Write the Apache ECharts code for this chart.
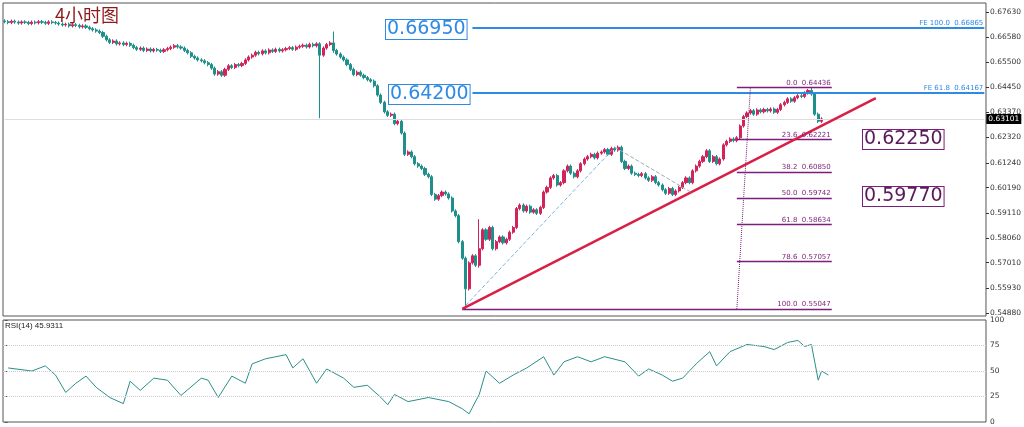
<!DOCTYPE html>
<html><head><meta charset="utf-8">
<script src="https://cdn.jsdelivr.net/npm/echarts@6/dist/echarts.min.js"></script>
<style>html,body{margin:0;padding:0;background:#fff}#c{width:1024px;height:427px}</style>
</head><body><div id="c"></div>
<script>
const closes = [
0.6722,0.6718,0.6724,0.6720,0.6716,0.6721,0.6719,0.6714,0.6720,0.6717,0.6722,0.6719,0.6715,0.6721,0.6718,0.6716,
0.6712,0.6708,0.6711,0.6704,0.6709,0.6706,0.6700,0.6704,0.6698,0.6692,0.6687,0.6682,0.6676,
0.6660,0.6645,0.6634,0.6640,0.6628,0.6632,0.6625,0.6630,0.6622,
0.6612,0.6605,0.6610,0.6600,0.6606,0.6598,0.6604,0.6601,0.6596,0.6603,0.6608,0.6614,
0.6620,0.6615,0.6610,0.6600,0.6590,
0.6575,0.6568,0.6560,0.6556,0.6548,0.6540,0.6525,
0.6500,0.6510,0.6495,
0.6520,0.6535,0.6528,0.6540,0.6536,0.6545,
0.6560,0.6572,
0.6580,0.6592,0.6586,0.6598,0.6590,0.6602,0.6596,0.6605,0.6598,0.6603,0.6608,
0.6612,0.6605,0.6614,0.6618,
0.6622,0.6615,0.6626,0.6620,0.6628,
0.6580,
0.6610,0.6625,0.6632,
0.6600,0.6585,0.6572,0.6560,
0.6540,0.6520,0.6498,0.6508,0.6495,
0.6485,0.6476,0.6470,0.6450,
0.6411,0.6380,
0.6340,0.6325,0.6330,
0.6290,0.6300,0.6250,
0.6160,0.6170,0.6150,
0.6120,0.6110,0.6100,
0.6075,0.6065,
0.5990,0.5970,0.5985,
0.6000,0.5992,0.5975,
0.5920,0.5900,
0.5790,0.5720,
0.5590,
0.5700,0.5730,
0.5690,0.5760,
0.5840,0.5800,0.5850,
0.5760,0.5790,0.5810,0.5785,
0.5800,0.5830,0.5850,
0.5930,0.5945,0.5920,
0.5940,0.5915,0.5925,0.5910,0.5935,
0.6000,0.6020,0.6060,0.6070,
0.6030,0.6040,0.6090,
0.6110,0.6080,0.6065,0.6090,0.6120,
0.6140,0.6150,0.6160,0.6145,0.6165,
0.6170,0.6180,0.6160,0.6185,0.6178,
0.6190,0.6130,0.6100,0.6110,0.6080,0.6075,
0.6070,0.6078,0.6060,0.6050,0.6065,0.6040,0.6030,
0.6010,0.5995,0.6015,0.5990,0.6005,
0.6020,0.6040,0.6060,0.6040,
0.6090,0.6110,0.6130,0.6150,
0.6175,0.6130,0.6150,0.6120,0.6140,
0.6200,0.6215,0.6225,
0.6218,0.6230,0.6280,0.6320,
0.6335,0.6345,0.6330,0.6348,0.6340,0.6350,
0.6344,0.6352,0.6338,0.6350,
0.6370,0.6380,0.6395,0.6385,0.6400,0.6408,
0.6405,0.6420,0.6430,0.6415,
0.6330,0.6300,0.6310
];
const wickOverrides = {93:[0.6635,0.6313], 136:[0.5640,0.5505], 140:[0.5885,0.5680], 97:[0.6680,0.6590], 238:[0.6444,0.6410]};
const rsiIdx = [1,8,12,15,18,21,24,27,31,35,37,40,44,48,52,58,60,63,67,71,73,77,83,85,88,92,95,100,103,107,111,113,115,119,125,131,135,137,140,142,146,150,154,159,162,165,169,173,177,183,187,190,194,197,200,204,208,210,214,219,224,227,231,234,236,238,240,241,243];
const rsiVal = [53,50,55,46,29,38,45,34,24,18,40,31,43,41,26,43,41,24,45,38,57,62,66,53,62,38,52,43,34,36,24,17,27,20,24,20,13,8,27,50,38,46,53,64,46,59,64,59,64,59,45,52,46,40,43,57,69,55,69,76,74,71,78,80,74,76,41,50,46];
const fibLevels = [["0.0",0.64436],["23.6",0.62221],["38.2",0.60850],["50.0",0.59742],["61.8",0.58634],["78.6",0.57057],["100.0",0.55047]];
const priceTicks = [0.54880,0.55930,0.57010,0.58060,0.59110,0.60190,0.61240,0.62320,0.63370,0.64450,0.65500,0.66580,0.67630];
const rsiTicks = [0,25,50,75,100];
const N = 290;

const cats = Array.from({length:N},(_,i)=>i);
const ohlc = closes.map((c,i)=>{
  const o = i===0 ? c+0.0003 : closes[i-1];
  let h = Math.max(o,c)+0.0007, l = Math.min(o,c)-0.0007;
  if (wickOverrides[i]) { h = Math.max(h, wickOverrides[i][0]); l = Math.min(l, wickOverrides[i][1]); }
  return [o,c,l,h];
});
const rsiData = rsiIdx.map((x,k)=>[x, rsiVal[k]]);
const purple = '#7a1f7a';
const blue = '#2f8ae6';
const fibLines = fibLevels.map(([p,v])=>[
  {coord:[p==="100.0"?135:216, v], lineStyle:{color:purple,width:1.3,type:'solid'},
   label:{show:true, position:'insideEndTop', formatter:p+'  '+v.toFixed(5), color:purple, fontSize:7, distance:1}},
  {coord:[244, v]}
]);
const chart = echarts.init(document.getElementById('c'));
const box = (txt,x,y,col,tc)=>({type:'text',left:x,top:y,style:{text:txt,fontSize:19,fill:tc,borderColor:col,borderWidth:1,padding:[0,1],backgroundColor:'#fff',fontFamily:'DejaVu Sans'}});
chart.setOption({
  animation:false,
  textStyle:{fontFamily:'DejaVu Sans'},
  grid:[{left:3,right:38,top:3,height:313,show:true,borderColor:'#555',borderWidth:1},
        {left:3,right:38,top:320,height:102,show:true,borderColor:'#555',borderWidth:1}],
  xAxis:[{type:'category',data:cats,gridIndex:0,axisLine:{show:false},axisTick:{show:false},axisLabel:{show:false}},
         {type:'value',min:-0.5,max:N-0.5,gridIndex:1,axisLine:{show:false},axisTick:{show:false},axisLabel:{show:false},splitLine:{show:false}}],
  yAxis:[{type:'value',min:0.5475,max:0.6801,position:'right',gridIndex:0,scale:true,splitLine:{show:false},
          axisLine:{show:false},axisTick:{show:true,length:3,customValues:priceTicks,lineStyle:{color:'#333'}},
          axisLabel:{customValues:priceTicks,formatter:v=>v.toFixed(5),fontSize:7.5,color:'#333',margin:4}},
         {type:'value',min:0,max:100,position:'right',gridIndex:1,
          axisLine:{show:false},axisTick:{show:true,length:3,customValues:rsiTicks},
          axisLabel:{customValues:rsiTicks,fontSize:7.5,color:'#333',margin:4},
          splitLine:{show:false}}],
  graphic:[
    {type:'text',left:55,top:6,style:{text:'4小时图',fontSize:18,fill:'#8b1a1a',fontFamily:'Noto Sans CJK SC'}},
    {type:'text',left:5,top:322,style:{text:'RSI(14) 45.9311',fontSize:8,fill:'#222'}},
    box('0.66950',385,19,blue,blue),
    box('0.64200',388,84,blue,blue),
    box('0.62250',862,129,purple,'#5a1a5a'),
    box('0.59770',862,186,purple,'#5a1a5a')
  ],
  series:[
    {type:'candlestick',xAxisIndex:0,yAxisIndex:0,data:ohlc,barWidth:2.6,
     itemStyle:{color:'#d1245a',color0:'#1e8f8a',borderColor:'#d1245a',borderColor0:'#1e8f8a',borderWidth:1},
     markLine:{symbol:'none',silent:true,data:[
       ...fibLines,
       [{coord:[138,0.66950],lineStyle:{color:blue,width:2,type:'solid'},
         label:{show:true,position:'insideEndTop',formatter:'FE 100.0  0.66865',color:blue,fontSize:7,distance:1}},{coord:[N-1,0.66950]}],
       [{coord:[138,0.64200],lineStyle:{color:blue,width:2,type:'solid'},
         label:{show:true,position:'insideEndTop',formatter:'FE 61.8  0.64167',color:blue,fontSize:7,distance:1}},{coord:[N-1,0.64200]}],
       [{coord:[0,0.63101],lineStyle:{color:'#ddd',width:1,type:'solid'},
         label:{show:true,position:'end',formatter:'0.63101',color:'#fff',backgroundColor:'#000',fontSize:7.5,padding:[1,2],distance:2}},{coord:[N-1,0.63101]}],
       [{coord:[135,0.5505],lineStyle:{color:'#d91f45',width:2.5,type:'solid'},label:{show:false}},{coord:[257,0.6398]}],
       [{coord:[136,0.5520],lineStyle:{color:'#7fb3e0',width:1,type:'dashed'},label:{show:false}},{coord:[180,0.6190]}],
       [{coord:[180,0.6190],lineStyle:{color:'#9ab',width:1,type:'dashed'},label:{show:false}},{coord:[203,0.5995]}],
       [{coord:[216,0.5505],lineStyle:{color:purple,width:1,type:'dotted'},label:{show:false}},{coord:[220,0.64436]}]
     ]}},
    {type:'line',xAxisIndex:1,yAxisIndex:1,data:rsiData,symbol:'none',lineStyle:{color:'#2a8f8a',width:1},
     markLine:{symbol:'none',silent:true,label:{show:false},lineStyle:{color:'#ccc',type:'dotted',width:1},
       data:[{yAxis:25},{yAxis:50},{yAxis:75}]}}
  ]
});
</script></body></html>
